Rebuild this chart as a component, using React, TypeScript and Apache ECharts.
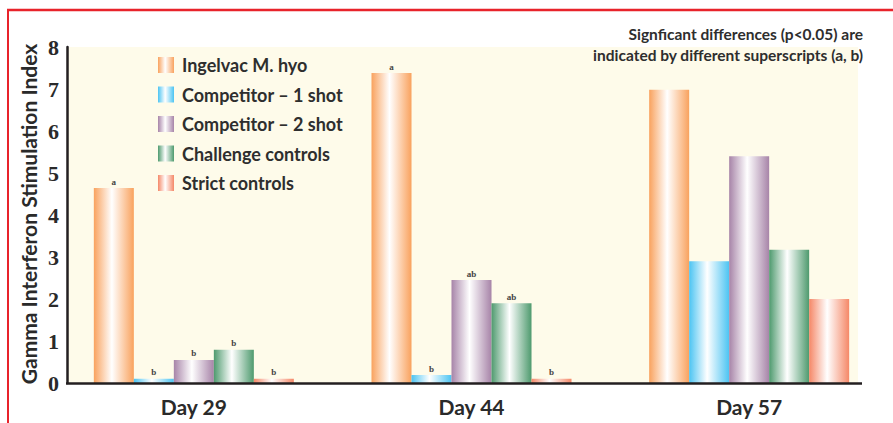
import React, { useEffect, useRef } from "react";
import * as echarts from "echarts";

const categories = ["Day 29", "Day 44", "Day 57"];
const seriesNames = [
  "Ingelvac M. hyo",
  "Competitor – 1 shot",
  "Competitor – 2 shot",
  "Challenge controls",
  "Strict controls",
];
const ingelvac = [4.64, 7.38, 6.98];
const competitor1 = [0.1, 0.19, 2.9];
const competitor2 = [0.55, 2.45, 5.4];
const challenge = [0.79, 1.9, 3.17];
const strict = [0.1, 0.1, 2.0];
const ingelvacSup = ["a", "a", ""];
const competitor1Sup = ["b", "b", ""];
const competitor2Sup = ["b", "ab", ""];
const challengeSup = ["b", "ab", ""];
const strictSup = ["b", "b", ""];
const yTicks = [0, 1, 2, 3, 4, 5, 6, 7, 8];

const colors = ["#F9A25E", "#4CC4F2", "#A784A8", "#4E9A6E", "#F58868"];

export default function App() {
  const ref = useRef<HTMLDivElement>(null);
  useEffect(() => {
    if (!ref.current) return;
    const chart = echarts.init(ref.current, null, { renderer: "svg" });
    const values = [ingelvac, competitor1, competitor2, challenge, strict];
    const sups = [ingelvacSup, competitor1Sup, competitor2Sup, challengeSup, strictSup];
    const grad = (c: string) =>
      new echarts.graphic.LinearGradient(0, 0, 1, 0, [
        { offset: 0, color: c },
        { offset: 0.45, color: "#ffffff" },
        { offset: 1, color: c },
      ]);
    const gridLeft = 55;
    const gridTop = 47;
    const gridBottom = 40;
    chart.setOption({
      animation: false,
      backgroundColor: "#ffffff",
      grid: { left: gridLeft, right: 5, top: gridTop, bottom: gridBottom },
      legend: {
        orient: "vertical",
        left: 158,
        top: 56,
        itemWidth: 16,
        itemHeight: 16,
        itemGap: 11.5,
        icon: "rect",
        padding: 0,
        data: seriesNames,
        textStyle: {
          fontFamily: "Lato",
          fontWeight: "bold",
          fontSize: 18,
          color: "#2e2e2e",
          padding: [0, 0, 0, 3],
        },
      },
      xAxis: {
        type: "category",
        data: categories,
        axisLine: { show: false },
        axisTick: { show: false },
        axisLabel: {
          fontFamily: "Lato",
          fontWeight: "bold",
          fontSize: 21,
          color: "#2a2a2a",
          margin: 13,
        },
      },
      yAxis: {
        type: "value",
        min: yTicks[0],
        max: yTicks[yTicks.length - 1],
        interval: 1,
        offset: -12,
        splitLine: { show: false },
        axisTick: { show: false },
        axisLine: { show: true, lineStyle: { color: "#231f20", width: 2.5 } },
        axisLabel: {
          fontFamily: "Liberation Serif",
          fontWeight: "bold",
          fontSize: 22,
          color: "#2a2a2a",
          margin: 8,
        },
      },
      graphic: [
        {
          type: "rect",
          z: -10,
          silent: true,
          shape: { x: 67, y: gridTop, width: 858 - 67, height: 383 - gridTop },
          style: { fill: "#FEFBEA" },
        },
        {
          type: "line",
          z: 10,
          shape: { x1: 66, y1: 383.5, x2: 862, y2: 383.5 },
          style: { stroke: "#231f20", lineWidth: 2.5 },
        },
        {
          type: "line",
          shape: { x1: 7, y1: 10, x2: 893, y2: 10 },
          style: { stroke: "#E8232B", lineWidth: 2.5 },
        },
        {
          type: "line",
          shape: { x1: 8, y1: 9, x2: 8, y2: 423 },
          style: { stroke: "#E8232B", lineWidth: 2 },
        },
        {
          type: "text",
          x: 28,
          y: 214,
          rotation: Math.PI / 2,
          style: {
            text: "Gamma Interferon Stimulation Index",
            fontFamily: "Lato",
            fontWeight: "bold",
            fontSize: 21,
            fill: "#2a2a2a",
            align: "center",
            verticalAlign: "middle",
          },
        },
        {
          type: "text",
          x: 863,
          y: 34,
          style: {
            text: "Signficant differences (p<0.05) are",
            fontFamily: "Lato",
            fontWeight: "bold",
            fontSize: 15.5,
            fill: "#2e2e2e",
            align: "right",
            verticalAlign: "middle",
          },
        },
        {
          type: "text",
          x: 863,
          y: 55,
          style: {
            text: "indicated by different superscripts (a, b)",
            fontFamily: "Lato",
            fontWeight: "bold",
            fontSize: 15.5,
            fill: "#2e2e2e",
            align: "right",
            verticalAlign: "middle",
          },
        },
      ],
      series: seriesNames.map((name, i) => ({
        name,
        type: "bar",
        data: values[i],
        barWidth: 40,
        barGap: "0%",
        itemStyle: { color: grad(colors[i]) },
        label: {
          show: true,
          position: "top",
          distance: 2,
          formatter: (p: any) => sups[i][p.dataIndex],
          fontFamily: "Liberation Serif",
          fontWeight: "bold",
          fontSize: 9,
          color: "#444444",
        },
      })),
    });
    return () => chart.dispose();
  }, []);
  return (
    <div
      ref={ref}
      style={{ position: "fixed", left: 0, top: 0, width: 893, height: 423 }}
    />
  );
}
